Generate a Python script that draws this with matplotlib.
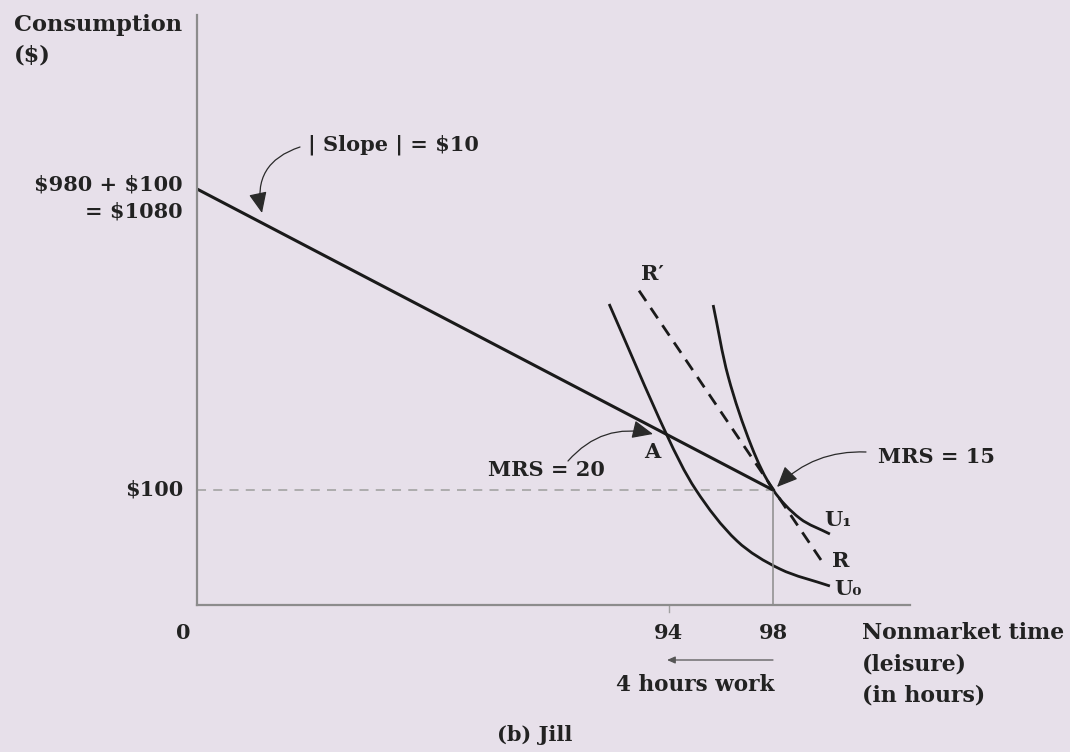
import matplotlib
matplotlib.use("Agg")
import matplotlib.pyplot as plt
import numpy as np
from matplotlib.patches import FancyArrowPatch, PathPatch
from matplotlib.path import Path

# ---------------- data (schematic) ----------------
x_ticks = [94, 98]
x_tick_labels = ["94", "98"]
y_ticks = [100, 1080]
y_tick_labels = [r"\$100", "\\$980 + \\$100\n= \\$1080"]

budget_x = [75.85, 98.0]          # starts at the vertical axis
budget_y = [1080.0, 100.0]

point_A = (94.0, 277.0)
point_E = (98.0, 100.0)

rr_x = [92.85, 100.0]             # R' -> R dashed line
rr_y = [749.0, -147.0]

u0_x = [91.70, 93.91, 95.04, 96.62, 98.27, 100.19]
u0_y = [705.6, 280.7, 100.0, -66.0, -157.2, -212.6]

u1_x = [95.70, 96.28, 97.18, 98.01, 99.04, 100.19]
u1_y = [702.3, 468.9, 241.0, 100.0, 7.2, -43.3]

# ---------------- figure ----------------
W, H = 1070, 752
BG = "#e7e0ea"
TXT = "#222222"
FONT = "DejaVu Serif"
plt.rcParams["font.family"] = [FONT, "DejaVu Sans"]

fig = plt.figure(figsize=(W / 100, H / 100), dpi=100, facecolor=BG)
L, R, T, B = 197, 910, 15, 605
ax = fig.add_axes([L / W, 1 - B / H, (R - L) / W, (B - T) / H])
ax.set_facecolor(BG)
XMIN, XMAX, YMIN, YMAX = 75.85, 103.27, -274.4, 1646.5
ax.set_xlim(XMIN, XMAX)
ax.set_ylim(YMIN, YMAX)

for s in ["top", "right"]:
    ax.spines[s].set_visible(False)
for s in ["left", "bottom"]:
    ax.spines[s].set_color("#8c8c8c")
    ax.spines[s].set_linewidth(1.6)
ax.set_xticks([])
ax.set_yticks([])

# small tick mark under the axis at 94
ax.plot([94, 94], [YMIN, YMIN - 24], color="#a0a0a0", lw=1.0, clip_on=False)

# guide lines at the chosen point
ax.plot([XMIN, point_E[0]], [point_E[1], point_E[1]], color="#a8a8a8",
        lw=1.3, ls=(0, (5, 4)))
ax.plot([point_E[0], point_E[0]], [YMIN, point_E[1]], color="#8c8c8c", lw=1.1)

# budget line
ax.plot(budget_x, budget_y, color="#1a1a1a", lw=2.2, solid_capstyle="butt")
# R'R dashed
ax.plot(rr_x, rr_y, color="#1a1a1a", lw=2.0, ls=(0, (4.5, 3)))


def smooth_curve(xs, ys, **kw):
    """Smooth Bezier path through the given points (chord-length
    Catmull-Rom), built in display space."""
    pts = ax.transData.transform(np.column_stack([xs, ys]))
    n = len(pts)
    seg = np.linalg.norm(np.diff(pts, axis=0), axis=1)
    t = np.concatenate([[0], np.cumsum(seg)])
    tang = np.zeros_like(pts)
    for i in range(n):
        if i == 0:
            tang[i] = (pts[1] - pts[0]) / (t[1] - t[0])
        elif i == n - 1:
            tang[i] = (pts[-1] - pts[-2]) / (t[-1] - t[-2])
        else:
            tang[i] = (pts[i + 1] - pts[i - 1]) / (t[i + 1] - t[i - 1])
    verts = [pts[0]]
    codes = [Path.MOVETO]
    for i in range(n - 1):
        h = t[i + 1] - t[i]
        verts += [pts[i] + tang[i] * h / 3, pts[i + 1] - tang[i + 1] * h / 3,
                  pts[i + 1]]
        codes += [Path.CURVE4] * 3
    verts = ax.transData.inverted().transform(np.array(verts))
    ax.add_patch(PathPatch(Path(verts, codes), fill=False, **kw))


smooth_curve(u0_x, u0_y, edgecolor="#1a1a1a", lw=2.0)
smooth_curve(u1_x, u1_y, edgecolor="#1a1a1a", lw=2.0)

fs = 15


def fp(px, py):
    return (px, H - py)


def ftext(px, py, s, ha="left", va="center", size=fs, ls=1.25):
    fig.text(px / W, 1 - py / H, s, ha=ha, va=va, fontsize=size,
             fontweight="bold", color=TXT, linespacing=ls)


# axis labels
ftext(14, 14, "Consumption\n(\\$)", va="top", size=16.2, ls=1.5)
ftext(862, 622, "Nonmarket time\n(leisure)\n(in hours)", va="top", size=15.8, ls=1.55)
ftext(535, 735, "(b) Jill", ha="center")

# tick labels
ftext(183, 490, y_tick_labels[0], ha="right")
ftext(183, 198, y_tick_labels[1], ha="right", ls=1.45)
ftext(183, 633, "0", ha="center")
for xv, lab in zip(x_ticks, x_tick_labels):
    disp = ax.transData.transform((xv, 0))
    ftext(disp[0], 633, lab, ha="center")

# curve labels
ftext(652, 274, "R\u2032", ha="center")
ftext(652, 452, "A", ha="center")
ftext(824, 520, "U\u2081")
ftext(832, 561, "R")
ftext(834, 589, "U\u2080")

# annotations
ftext(308, 145, "| Slope | = \\$10")
ftext(488, 470, "MRS = 20")
ftext(878, 457, "MRS = 15")
ftext(695, 685, "4 hours work", ha="center", size=15.5)


def arrow(p0, p1, rad, scale=16, lw=0.9, color="#2a2a2a"):
    a = FancyArrowPatch(fp(*p0), fp(*p1), transform=None,
                        connectionstyle=f"arc3,rad={rad}",
                        arrowstyle="-|>,head_length=0.8,head_width=0.35",
                        mutation_scale=scale, lw=lw, color=color,
                        shrinkA=0, shrinkB=0)
    fig.patches.append(a)


arrow((300, 147), (262, 213), 0.45)
arrow((568, 461), (653, 434), -0.3)
arrow((866, 452), (777, 487), 0.22)
arrow((773, 660), (667, 660), 0.0, scale=6, lw=0.9, color="#555555")

fig.savefig("out.png", dpi=100, facecolor=BG)
